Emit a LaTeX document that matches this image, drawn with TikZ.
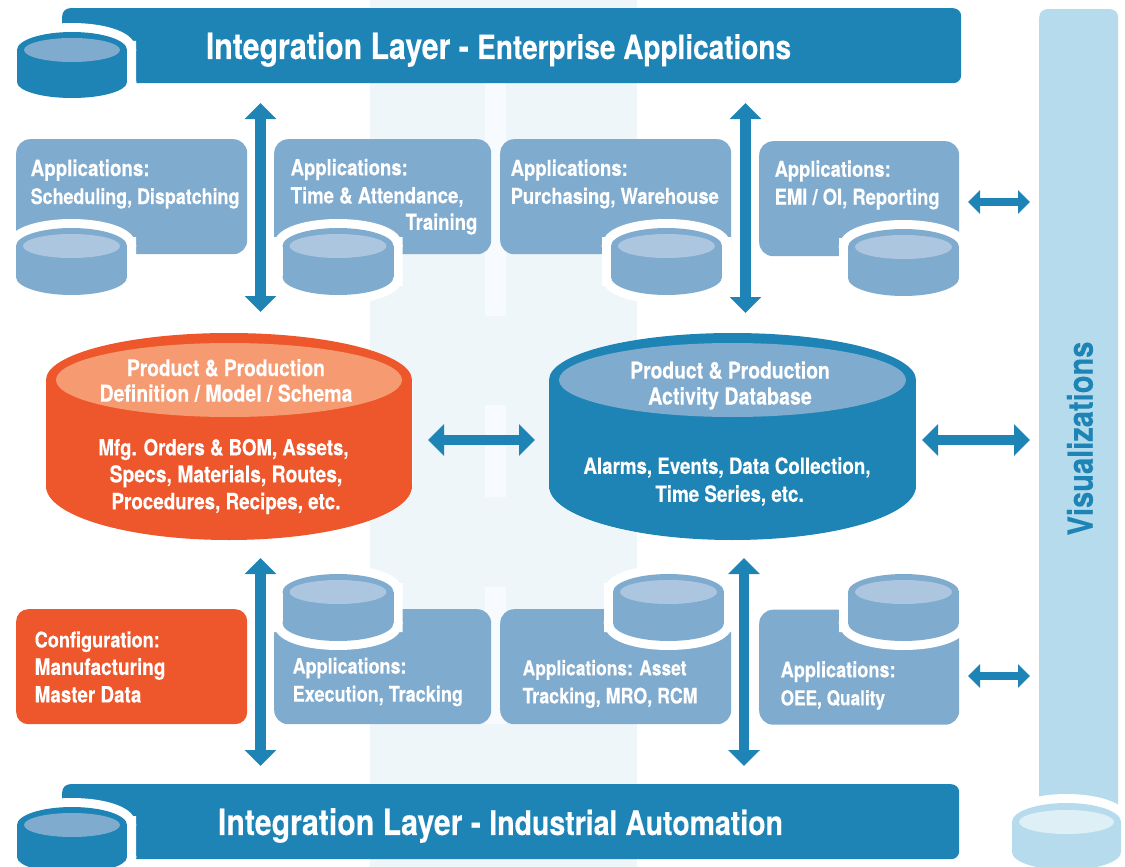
\documentclass[tikz,border=0pt]{standalone}
\usepackage{fontspec}
\setmainfont{TeX Gyre Heros}[FakeStretch=0.84,BoldFeatures={FakeBold=0.25}]
\usetikzlibrary{arrows.meta}
\definecolor{dkblue}{HTML}{1D84B5}
\definecolor{appblue}{HTML}{7FABCF}
\definecolor{appinner}{HTML}{ACC6DF}
\definecolor{orng}{HTML}{EE562B}
\definecolor{orngin}{HTML}{F59A71}
\definecolor{vizblue}{HTML}{B5DBEC}
\definecolor{vizin}{HTML}{DEEFF6}
\definecolor{band}{HTML}{EEF6FA}
\definecolor{bandlt}{HTML}{F8FBFD}
\newcommand{\fsz}[2]{\fontsize{#1}{#2}\selectfont\bfseries}
\newcommand{\fz}[1]{\fontsize{#1}{28}\selectfont}
\newcommand{\dbcyl}[9]{%
  \def\cN{#1}\def\cB{#2}\def\cI{#3}\def\cX{#4}\def\cY{#5}\def\cR{#6}\def\cT{#7}\def\cIR{#8}\def\cIY{#9}\dbcylC}
\newcommand{\dbcylC}[3]{%
  \draw[white,line width=#3] (\cX,\cY) ellipse[x radius=\cR,y radius=\cT]
     (\cX-\cR,\cY) rectangle (\cX+\cR,\cY+#1)
     (\cX,\cY+#1) ellipse[x radius=\cR,y radius=#2];
  \fill[\cB] (\cX,\cY) ellipse[x radius=\cR,y radius=\cT];
  \fill[\cB] (\cX,\cY+#1) ellipse[x radius=\cR,y radius=#2];
  \fill[\cB] (\cX-\cR,\cY) rectangle (\cX+\cR,\cY+#1);
  \node[inner sep=0pt] (\cN) at (\cX,\cY) {};
  \fill[\cI] (\cX,\cY) ellipse[x radius=\cIR,y radius=\cIY];}
\tikzset{
  barbox/.style={draw=none,fill=dkblue,rounded corners=8pt,inner sep=0pt,anchor=north west},
  appbox/.style={draw=none,fill=appblue,rounded corners=14pt,inner sep=0pt,anchor=north west,minimum height=115pt},
  cfgbox/.style={appbox,fill=orng,rounded corners=12pt},
  apptxt/.style={text=white,anchor=west,inner sep=0pt,align=left,font=\fsz{21}{28}},
  dbtxt/.style={text=white,inner sep=0pt,align=center,font=\fsz{22}{27}},
  bigarrow/.style={draw=dkblue,line width=10.5pt,{Triangle[width=31pt,length=16pt]}-{Triangle[width=31pt,length=16pt]}},
  smallarrow/.style={draw=dkblue,line width=8pt,{Triangle[width=23pt,length=12pt]}-{Triangle[width=23pt,length=12pt]}},
}
\begin{document}
\begin{tikzpicture}[x=1pt,y=-1pt]
\useasboundingbox (0,0) rectangle (1125,867);
% background band
\fill[band] (370,0) rectangle (637,867);
\fill[bandlt] (485,83) rectangle (506,316);
\fill[bandlt] (485,405) rectangle (506,497);
\fill[bandlt] (485,587) rectangle (506,724);
% visualisation column
\node[draw=none,fill=vizblue,rounded corners=8pt,inner sep=0pt,anchor=north west,minimum width=79pt,minimum height=810pt] (viz) at (1039,9) {};
% integration bars
\node[barbox,minimum width=899pt,minimum height=75pt] (topbar) at (62,8) {};
\node[barbox,minimum width=897pt,minimum height=75pt] (botbar) at (62,784) {};
% application boxes
\node[appbox,minimum width=231pt] (a1) at (16,139) {};
\node[appbox,minimum width=217pt] (a2) at (274,139) {};
\node[appbox,minimum width=231pt] (a3) at (500,139) {};
\node[appbox,minimum width=200pt] (a4) at (759,141) {};
\node[cfgbox,minimum width=231pt] (b1) at (16,609) {};
\node[appbox,minimum width=217pt] (b2) at (274,609) {};
\node[appbox,minimum width=231pt] (b3) at (500,609) {};
\node[appbox,minimum width=200pt] (b4) at (759,609.5) {};
% small cylinders
\dbcyl{c0}{dkblue}{appblue}{72}{50}{55}{18}{48}{12}{32}{16}{18}
\dbcyl{c1}{appblue}{appinner}{71.5}{246}{55.5}{18}{48.5}{12}{31}{18}{18}
\dbcyl{c2}{appblue}{appinner}{338}{246}{55.5}{18}{48.5}{12}{31}{18}{18}
\dbcyl{c3}{appblue}{appinner}{666.5}{246}{55.5}{18}{48.5}{12}{31}{18}{18}
\dbcyl{c4}{appblue}{appinner}{903.5}{247}{55.5}{18}{48.5}{12}{31}{18}{18}
\dbcyl{c5}{appblue}{appinner}{338}{592}{55.5}{18}{48.5}{12}{31}{18}{18}
\dbcyl{c6}{appblue}{appinner}{668.5}{592}{55.5}{18}{48.5}{12}{31}{18}{18}
\dbcyl{c7}{appblue}{appinner}{903.5}{592}{55.5}{18}{48.5}{12}{31}{18}{18}
\dbcyl{c8}{dkblue}{appblue}{72}{825}{55}{18}{48}{12}{32}{16}{18}
\dbcyl{c9}{vizblue}{vizin}{1066.5}{822}{54.5}{19}{47.5}{12}{30}{18}{18}
% big cylinders
\dbcyl{db1}{orng}{orngin}{229}{380}{183}{47}{173}{37}{106}{54}{0}
\dbcyl{db2}{dkblue}{appblue}{732.5}{380}{183.5}{47}{173.5}{37}{106}{54}{0}
% bar titles
\node[text=white,inner sep=0pt] (t1) at (498.5,49.5) {\fontsize{36}{40}\selectfont\bfseries Integration Layer - {\fontsize{33.3}{40}\selectfont Enterprise Applications}};
\node[text=white,inner sep=0pt] (t2) at (500.5,825.5) {\fontsize{36}{40}\selectfont\bfseries Integration Layer - {\fontsize{33.9}{40}\selectfont Industrial Automation}};
% application texts
\node[apptxt] (ta1) at (30.5,184) {\fz{22.35}Applications:\\\fz{21.3}Scheduling, Dispatching};
\node[apptxt] (ta2) at (290.5,183) {\fz{22}Applications:\\\fz{22.1}Time \& Attendance,};
\node[apptxt,anchor=east] (ta2b) at (477.5,224) {\fz{22}Training};
\node[apptxt] (ta3) at (510.5,184) {\fz{22}Applications:\\\fz{21.8}Purchasing, Warehouse};
\node[apptxt] (ta4) at (774.5,185) {\fz{21.8}Applications:\\\fz{21.9}EMI / OI, Reporting};
\node[apptxt,font=\fsz{22}{27.5}] (tb1) at (34.5,667) {\fontsize{21.6}{27.5}\selectfont Configuration:\\\fontsize{22.6}{27.5}\selectfont Manufacturing\\\fontsize{22.4}{27.5}\selectfont Master Data};
\node[apptxt] (tb2) at (292.5,682) {\fontsize{21.4}{26}\selectfont Applications:\\\fontsize{21.5}{26}\selectfont Execution, Tracking};
\node[apptxt] (tb3) at (522.5,684) {\fz{20.7}Applications: Asset\\\fz{21.2}Tracking, MRO, RCM};
\node[apptxt] (tb4) at (780.5,685.5) {\fz{21.6}Applications:\\\fz{20.5}OEE, Quality};
% database texts
\node[dbtxt,font=\fsz{23}{25.5}] (d1a) at (226,380.5) {\fontsize{22.8}{25.5}\selectfont Product \& Production\\\fontsize{23.15}{25.5}\selectfont Definition / Model / Schema};
\node[dbtxt] (d1b) at (226,476.5) {\fontsize{22.2}{27}\selectfont Mfg. Orders \& BOM, Assets,\hspace*{5pt}\\\fontsize{23}{27}\selectfont Specs, Materials, Routes,\\\fontsize{22.4}{27}\selectfont Procedures, Recipes, etc.};
\node[dbtxt,font=\fsz{23}{26}] (d2a) at (730,385.5) {\fontsize{23}{26}\selectfont Product \& Production\\\fontsize{23.4}{26}\selectfont Activity Database};
\node[dbtxt,font=\fsz{22.3}{28}] (d2b) at (727,481.5) {\fz{22.3}Alarms, Events, Data Collection,\\\fz{22.4}\hspace*{5pt}Time Series, etc.};
\node[text=dkblue,inner sep=0pt,rotate=90,font=\fsz{34.6}{36}] (vz) at (1080,438.5) {Visualizations};
% connector ends
\coordinate (v1t) at (260.5,103); \coordinate (v1b) at (260.5,312);
\coordinate (v2t) at (745.5,103); \coordinate (v2b) at (745.5,313);
\coordinate (v3t) at (260.5,558); \coordinate (v3b) at (260.5,766);
\coordinate (v4t) at (744,558);   \coordinate (v4b) at (744,766);
\coordinate (h1l) at (428,440);   \coordinate (h1r) at (535,440);
\coordinate (h2l) at (922,440);   \coordinate (h2r) at (1030,440);
\coordinate (h3l) at (968,202);   \coordinate (h3r) at (1030,202);
\coordinate (h4l) at (968,676);   \coordinate (h4r) at (1030,676);
\draw[bigarrow] (v1t) -- (v1b);
\draw[bigarrow] (v2t) -- (v2b);
\draw[bigarrow] (v3t) -- (v3b);
\draw[bigarrow] (v4t) -- (v4b);
\draw[bigarrow] (h1l) -- (h1r);
\draw[bigarrow] (h2l) -- (h2r);
\draw[smallarrow] (h3l) -- (h3r);
\draw[smallarrow] (h4l) -- (h4r);
\end{tikzpicture}
\end{document}
